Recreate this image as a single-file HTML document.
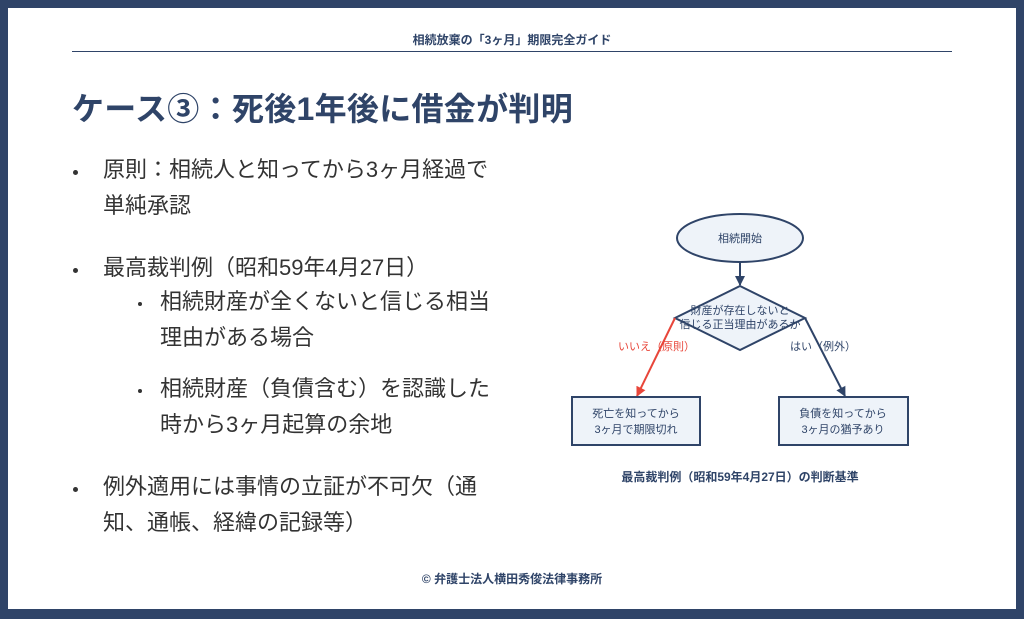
<!DOCTYPE html>
<html><head><meta charset="utf-8"><style>
body{margin:0;width:1024px;height:619px;overflow:hidden;background:#2f4468;font-family:"Liberation Sans","Noto Sans CJK JP",sans-serif;}
.pg{position:absolute;left:8px;top:8px;width:1008px;height:601px;background:#fff;}
.t{position:absolute;white-space:nowrap;}
.hd{left:0;width:1024px;text-align:center;top:31px;font-size:12px;font-weight:bold;color:#2f4468;}
.hr{position:absolute;left:72px;top:51px;width:880px;height:1px;background:#2f4468;}
.ti{left:72px;top:84px;font-size:32px;font-weight:bold;color:#2f4468;letter-spacing:0.3px;}
.b{font-size:22px;color:#333;line-height:36px;}
.dot{position:absolute;width:5px;height:5px;border-radius:3px;background:#333;}
</style></head><body>
<div class="pg"></div>
<div class="t hd">相続放棄の「3ヶ月」期限完全ガイド</div>
<div class="hr"></div>
<div class="t ti">ケース③：死後1年後に借金が判明</div>
<div class="dot" style="left:73px;top:170px"></div>
<div class="t b" style="left:103px;top:152px">原則：相続人と知ってから3ヶ月経過で<br>単純承認</div>
<div class="dot" style="left:73px;top:268px"></div>
<div class="t b" style="left:103px;top:250px">最高裁判例（昭和59年4月27日）</div>
<div class="dot" style="left:138px;top:302px;width:4px;height:4px"></div>
<div class="t b" style="left:160px;top:284px">相続財産が全くないと信じる相当<br>理由がある場合</div>
<div class="dot" style="left:138px;top:389px;width:4px;height:4px"></div>
<div class="t b" style="left:160px;top:371px">相続財産（負債含む）を認識した<br>時から3ヶ月起算の余地</div>
<div class="dot" style="left:73px;top:487px"></div>
<div class="t b" style="left:103px;top:469px">例外適用には事情の立証が不可欠（通<br>知、通帳、経緯の記録等）</div>
<div class="t" style="left:0;width:1024px;text-align:center;top:570px;font-size:12px;font-weight:bold;color:#2f4468">© 弁護士法人横田秀俊法律事務所</div>
<svg width="1024" height="619" style="position:absolute;left:0;top:0" font-family="Liberation Sans,Noto Sans CJK JP,sans-serif">
<defs><marker id="a" markerWidth="5" markerHeight="5" refX="4.5" refY="2.5" orient="auto"><path d="M0,0L5,2.5L0,5z" fill="#2f4468"/></marker>
<marker id="r" markerWidth="5" markerHeight="5" refX="4.5" refY="2.5" orient="auto"><path d="M0,0L5,2.5L0,5z" fill="#e8463a"/></marker></defs>
<ellipse cx="740" cy="238" rx="63" ry="24" fill="#eef3f9" stroke="#2f4468" stroke-width="2"/>
<text x="740" y="242" font-size="11" text-anchor="middle" fill="#2f4468">相続開始</text>
<line x1="740" y1="262" x2="740" y2="285" stroke="#2f4468" stroke-width="2" marker-end="url(#a)"/>
<polygon points="740,286 805,318 740,350 675,318" fill="#eef3f9" stroke="#2f4468" stroke-width="2"/>
<text x="740" y="314" font-size="11" text-anchor="middle" fill="#2f4468">財産が存在しないと</text>
<text x="740" y="328" font-size="11" text-anchor="middle" fill="#2f4468">信じる正当理由があるか</text>
<line x1="675" y1="318" x2="637" y2="396" stroke="#e8463a" stroke-width="2" marker-end="url(#r)"/>
<line x1="805" y1="318" x2="845" y2="396" stroke="#2f4468" stroke-width="2" marker-end="url(#a)"/>
<text x="618" y="350" font-size="11" fill="#e8463a">いいえ（原則）</text>
<text x="790" y="350" font-size="11" fill="#2f4468">はい（例外）</text>
<rect x="572" y="397" width="128" height="48" fill="#eef3f9" stroke="#2f4468" stroke-width="2"/>
<text x="636" y="417" font-size="11" text-anchor="middle" fill="#2f4468">死亡を知ってから</text>
<text x="636" y="433" font-size="11" text-anchor="middle" fill="#2f4468">3ヶ月で期限切れ</text>
<rect x="779" y="397" width="129" height="48" fill="#eef3f9" stroke="#2f4468" stroke-width="2"/>
<text x="843" y="417" font-size="11" text-anchor="middle" fill="#2f4468">負債を知ってから</text>
<text x="843" y="433" font-size="11" text-anchor="middle" fill="#2f4468">3ヶ月の猶予あり</text>
<text x="740" y="481" font-size="12" font-weight="bold" text-anchor="middle" fill="#2f4468">最高裁判例（昭和59年4月27日）の判断基準</text>
</svg>
</body></html>
